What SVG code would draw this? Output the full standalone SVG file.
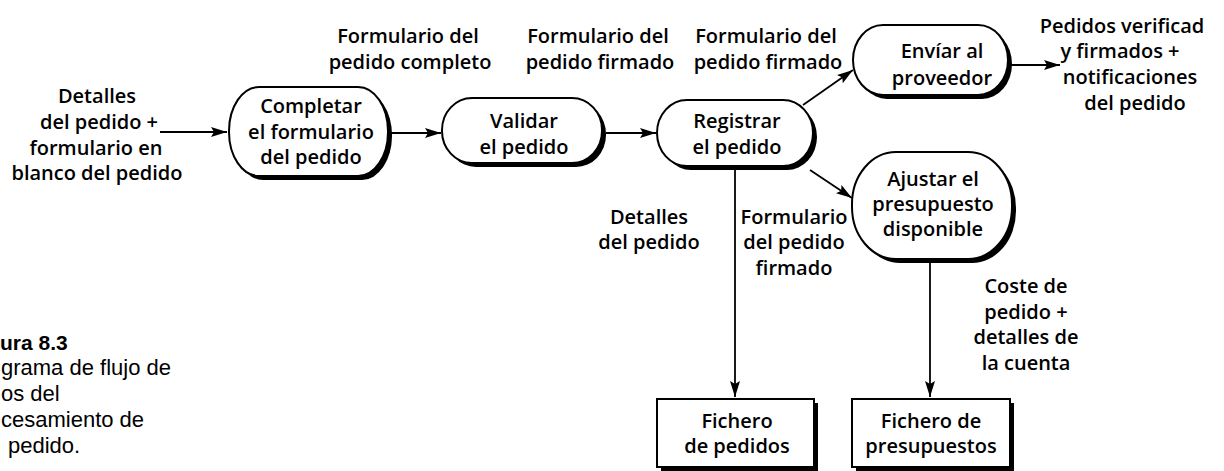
<svg xmlns="http://www.w3.org/2000/svg" width="1224" height="471" viewBox="0 0 1224 471">
<style>
.t{font-family:"Open Sans","Liberation Sans",sans-serif;font-weight:600;font-size:20px;fill:#000;text-anchor:middle}
.c{font-family:"Liberation Sans","Open Sans",sans-serif;font-weight:400;font-size:22px;fill:#000}
.cb{font-family:"Liberation Sans","Open Sans",sans-serif;font-weight:700;font-size:21px;fill:#000}
.sh{fill:#000;stroke:none}
.nd{fill:#fff;stroke:#000;stroke-width:2}
.ln{fill:none;stroke:#000;stroke-width:1.8}
</style>
<defs>
<marker id="ah" markerUnits="userSpaceOnUse" markerWidth="17" markerHeight="11" refX="16" refY="5.5" orient="auto">
<path d="M0,0.5 L16,5.5 L0,10.5 L3,5.5 z" fill="#000"/>
</marker>
</defs>
<rect width="1224" height="471" fill="#fff"/>

<g id="connectors">
<line class="ln" x1="160" y1="132" x2="227" y2="132" marker-end="url(#ah)"/>
<line class="ln" x1="390" y1="133" x2="441" y2="133" marker-end="url(#ah)"/>
<line class="ln" x1="606" y1="133" x2="656" y2="133" marker-end="url(#ah)"/>
<line class="ln" x1="803" y1="105" x2="853" y2="70" marker-end="url(#ah)"/>
<line class="ln" x1="810" y1="170" x2="852" y2="198" marker-end="url(#ah)"/>
<line class="ln" x1="1011" y1="65" x2="1060" y2="65" marker-end="url(#ah)"/>
<line class="ln" x1="735" y1="167" x2="735" y2="397" marker-end="url(#ah)"/>
<line class="ln" x1="930" y1="260" x2="930" y2="397" marker-end="url(#ah)"/>
</g>

<g id="lbl-input">
<text class="t" x="97" y="103">Detalles</text>
<text class="t" x="99" y="129">del pedido +</text>
<text class="t" x="96" y="155">formulario en</text>
<text class="t" x="97" y="180">blanco del pedido</text>
</g>
<g id="lbl-completo">
<text class="t" x="408" y="43">Formulario del</text>
<text class="t" x="410" y="69">pedido completo</text>
</g>
<g id="lbl-firmado1">
<text class="t" x="598" y="43">Formulario del</text>
<text class="t" x="600" y="69">pedido firmado</text>
</g>
<g id="lbl-firmado2">
<text class="t" x="766" y="43">Formulario del</text>
<text class="t" x="768" y="69">pedido firmado</text>
</g>
<g id="lbl-output">
<text class="t" x="1122" y="33">Pedidos verificad</text>
<text class="t" x="1120" y="58">y firmados +</text>
<text class="t" x="1130" y="84">notificaciones</text>
<text class="t" x="1135" y="110">del pedido</text>
</g>
<g id="lbl-detalles">
<text class="t" x="649" y="224">Detalles</text>
<text class="t" x="649" y="249">del pedido</text>
</g>
<g id="lbl-firmado3">
<text class="t" x="794" y="224">Formulario</text>
<text class="t" x="794" y="249">del pedido</text>
<text class="t" x="794" y="275">firmado</text>
</g>
<g id="lbl-coste">
<text class="t" x="1026" y="293">Coste de</text>
<text class="t" x="1026" y="319">pedido +</text>
<text class="t" x="1026" y="344">detalles de</text>
<text class="t" x="1026" y="370">la cuenta</text>
</g>

<g id="n-completar">
<rect class="sh" x="233" y="91" width="159" height="89" rx="30" ry="44"/>
<rect class="nd" x="229" y="87" width="159" height="89" rx="30" ry="44"/>
<text class="t" x="311" y="113">Completar</text>
<text class="t" x="311" y="139">el formulario</text>
<text class="t" x="311" y="164">del pedido</text>
</g>
<g id="n-validar">
<rect class="sh" x="446" y="102" width="160" height="65" rx="30" ry="32"/>
<rect class="nd" x="442" y="98" width="160" height="65" rx="30" ry="32"/>
<text class="t" x="524" y="128">Validar</text>
<text class="t" x="524" y="154">el pedido</text>
</g>
<g id="n-registrar">
<rect class="sh" x="661" y="104" width="156" height="66" rx="30" ry="33"/>
<rect class="nd" x="657" y="100" width="156" height="66" rx="30" ry="33"/>
<text class="t" x="737" y="128">Registrar</text>
<text class="t" x="737" y="154">el pedido</text>
</g>
<g id="n-enviar">
<rect class="sh" x="857" y="29" width="155" height="70" rx="30" ry="35"/>
<rect class="nd" x="853" y="25" width="155" height="70" rx="30" ry="35"/>
<text class="t" x="942" y="58">Envíar al</text>
<text class="t" x="942" y="85">proveedor</text>
</g>
<g id="n-ajustar">
<rect class="sh" x="856" y="156" width="160" height="107" rx="44" ry="52"/>
<rect class="nd" x="852" y="152" width="160" height="107" rx="44" ry="52"/>
<text class="t" x="933" y="186">Ajustar el</text>
<text class="t" x="933" y="211">presupuesto</text>
<text class="t" x="933" y="236">disponible</text>
</g>
<g id="n-fichero-pedidos">
<rect class="sh" x="661" y="403" width="157" height="68"/>
<rect class="nd" x="657" y="399" width="157" height="68"/>
<text class="t" x="737" y="428">Fichero</text>
<text class="t" x="737" y="453">de pedidos</text>
</g>
<g id="n-fichero-presupuestos">
<rect class="sh" x="856" y="403" width="158" height="68"/>
<rect class="nd" x="852" y="399" width="158" height="68"/>
<text class="t" x="931" y="428">Fichero de</text>
<text class="t" x="931" y="453">presupuestos</text>
</g>

<g id="caption">
<text class="cb" x="0" y="350">ura 8.3</text>
<text class="c" x="1" y="375">grama de flujo de</text>
<text class="c" x="1" y="401">os del</text>
<text class="c" x="1" y="427">cesamiento de</text>
<text class="c" x="8" y="453">pedido.</text>
</g>
</svg>
